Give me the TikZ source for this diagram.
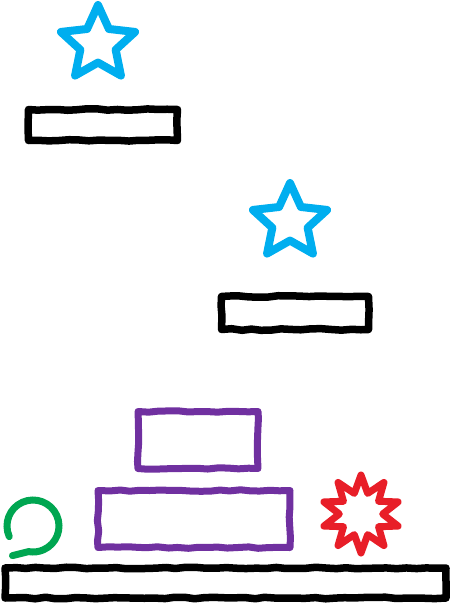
\documentclass[tikz,border=0pt]{standalone}
\usetikzlibrary{shapes.geometric,decorations.pathmorphing}
\definecolor{skyb}{RGB}{0,174,239}
\definecolor{purp}{RGB}{112,48,160}
\definecolor{redd}{RGB}{232,30,40}
\definecolor{grn}{RGB}{0,166,81}
\pgfmathsetseed{7}
\tikzset{
  sketch/.style={decorate, decoration={random steps, segment length=10pt, amplitude=0.8pt}},
  blackbar/.style={draw=black, line width=7.5pt, line join=round, sketch, minimum width=#1, inner sep=0pt},
  purpbox/.style={draw=purp, line width=7pt, line join=round, sketch, inner sep=0pt},
  bluestar/.style={draw=skyb, line width=8pt, line join=round, star, star points=5, star point ratio=2.1, minimum size=78pt, inner sep=0pt},
  burst/.style={draw=redd, line width=7pt, line join=round, star, star points=10, star point ratio=1.8, minimum size=78pt, inner sep=0pt},
}
\begin{document}
\begin{tikzpicture}[x=1pt,y=-1pt]
\useasboundingbox (0,0) rectangle (451,608);
\node[bluestar] (s1) at (98,44) {};
\node[bluestar] (s2) at (290,222) {};
\node[blackbar=149pt, minimum height=31pt] (b1) at (103,125) {};
\node[blackbar=147pt, minimum height=33pt] (b2) at (295,313) {};
\node[purpbox, minimum width=120pt, minimum height=57pt] (p1) at (198,440) {};
\node[purpbox, minimum width=192pt, minimum height=57pt] (p2) at (194,519) {};
\node[burst] (r1) at (361,514) {};
\node[blackbar=441pt, minimum height=30pt] (b3) at (225.5,583) {};
\draw[grn, line width=7pt, line cap=round] (33,526) ++(156:26) arc[start angle=156, end angle=460, radius=26] -- ++(-16,4) coordinate (g1);
\end{tikzpicture}
\end{document}
